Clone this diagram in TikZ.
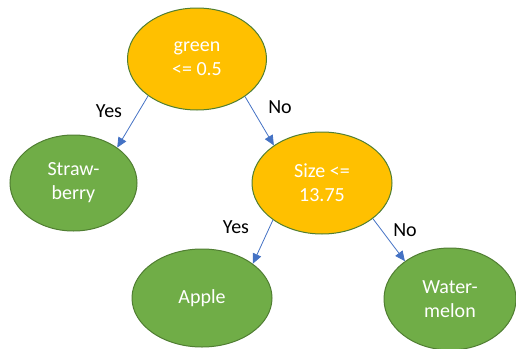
\documentclass[tikz,border=0pt]{standalone}
\usepackage{fontspec}
\setmainfont{Carlito}
\usetikzlibrary{arrows.meta,shapes.geometric}
\definecolor{condfill}{HTML}{FFC000}
\definecolor{leaffill}{HTML}{70AD47}
\definecolor{rimcol}{HTML}{507E32}
\definecolor{arrowcol}{HTML}{4472C4}
\tikzset{
  decision/.style={ellipse, draw=rimcol, line width=1pt, fill=condfill, text=white,
    align=center, inner sep=0pt, font=\fontsize{20}{24}\selectfont},
  leaf/.style={decision, fill=leaffill},
  branch/.style={draw=arrowcol, line width=0.8pt, -{Triangle[length=10pt,width=9pt]}},
  answer/.style={text=black, inner sep=0pt, font=\fontsize{20}{24}\selectfont},
}
\begin{document}
\begin{tikzpicture}[x=1pt,y=-1pt]
  \useasboundingbox (0,0) rectangle (516,348);
  \node[decision, minimum width=139pt, minimum height=102pt] (root) at (197,59) {green\\<= 0.5};
  \node[leaf, minimum width=127pt, minimum height=96pt] (straw) at (73.5,183) {Straw-\\berry};
  \node[decision, minimum width=140pt, minimum height=102pt] (size) at (322,183) {Size <=\\13.75};
  \node[leaf, minimum width=140pt, minimum height=98pt] (apple) at (202,298) {Apple};
  \node[leaf, minimum width=132pt, minimum height=102pt] (water) at (450,299) {Water-\\melon};

  \draw[branch] (root.-143) -- (straw.39);
  \draw[branch] (root.-38) -- (size.142);
  \draw[branch] (size.-143) -- (apple.34);
  \draw[branch] (size.-35) -- (water.140);

  \node[answer] (yes1) at (109,111) {Yes};
  \node[answer] (no1) at (280,107) {No};
  \node[answer] (yes2) at (236,227) {Yes};
  \node[answer] (no2) at (405,230) {No};
\end{tikzpicture}
\end{document}
